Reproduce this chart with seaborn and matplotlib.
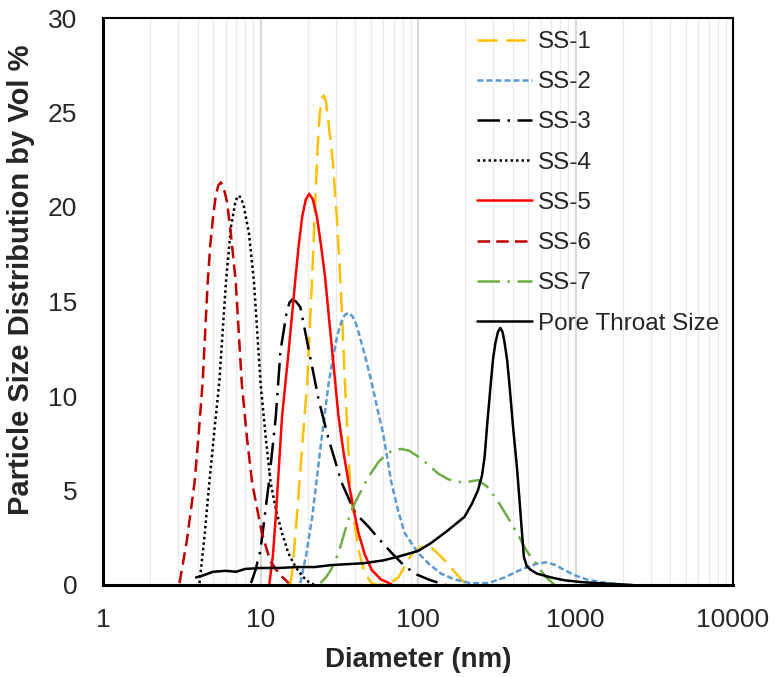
import numpy as np
import pandas as pd
import seaborn as sns
import matplotlib.pyplot as plt
from matplotlib.ticker import LogLocator, NullFormatter, FixedLocator

# values (diameter in nm, vol %)
ss1_d = [15.0, 15.5, 16.0, 16.7, 18.3, 19.8, 21.2, 22.3, 23.0, 23.7, 24.4, 25.2, 26.0, 27.0, 28.7, 30.5, 32.2, 34.4, 37.0, 39.5, 41.9, 46.0, 50.8, 55, 65, 75, 80, 86, 93, 100, 112, 125, 136, 148, 160, 175, 190, 208]
ss1_v = [0.0, 0.1, 0.9, 2.75, 7.1, 10.7, 16.0, 20.4, 23.0, 24.8, 25.7, 25.9, 25.6, 24.5, 22.5, 19.5, 16.0, 10.7, 5.4, 3.3, 1.85, 0.6, 0.1, 0.0, 0.05, 0.4, 0.8, 1.3, 1.7, 1.9, 2.1, 1.9, 1.6, 1.3, 0.95, 0.6, 0.25, 0.0]

ss2_d = [17.9, 19.5, 21.3, 23.9, 27.1, 30.5, 32.5, 34.4, 36.3, 38.5, 40.5, 42.8, 46.5, 50.8, 55, 60.1, 67.8, 75, 82.3, 100, 118, 140, 170, 215, 280, 355, 420, 495, 580, 660, 750, 845, 1000, 1170, 1450, 1830]
ss2_v = [0.1, 1.6, 3.6, 7.1, 10.7, 13.1, 13.9, 14.3, 14.4, 14.2, 13.8, 13.1, 12.0, 10.7, 9.4, 8.0, 5.4, 3.9, 2.75, 1.7, 1.1, 0.6, 0.3, 0.1, 0.1, 0.4, 0.7, 0.95, 1.15, 1.2, 1.05, 0.8, 0.5, 0.3, 0.15, 0.05]

ss3_d = [8.7, 9.3, 10.0, 11.3, 12.5, 13.4, 14.7, 15.3, 15.9, 16.8, 17.9, 20.3, 23.4, 27.1, 32.8, 40.0, 48.3, 57, 68, 80, 95.2, 120, 150]
ss3_v = [0.1, 0.8, 1.85, 5.4, 8.9, 12.4, 14.5, 14.95, 15.1, 15.0, 14.7, 12.4, 9.8, 7.7, 5.4, 3.8, 3.1, 2.4, 1.7, 1.1, 0.6, 0.25, 0.0]

ss4_d = [4.1, 4.4, 4.73, 5.1, 5.47, 6.03, 6.48, 6.9, 7.1, 7.3, 7.55, 7.85, 8.45, 9.1, 10.0, 10.8, 11.6, 12.6, 13.7, 15.0, 16.7, 18.5, 20.3, 22.0]
ss4_v = [0.1, 2.5, 5.4, 8.2, 10.7, 16.0, 18.9, 20.2, 20.5, 20.6, 20.45, 20.0, 18.6, 16.0, 10.7, 7.8, 5.4, 3.9, 2.75, 1.7, 0.95, 0.45, 0.15, 0.0]

ss5_d = [11.4, 12.0, 12.5, 13.7, 15.1, 16.7, 17.5, 18.4, 19.4, 20.4, 21.5, 22.8, 24.2, 25.7, 28.5, 31.3, 33.7, 36.3, 39.0, 41.9, 46.0, 50.8, 58, 67.5]
ss5_v = [0.1, 1.6, 3.6, 8.9, 12.4, 16.3, 18.0, 19.5, 20.4, 20.7, 20.4, 19.5, 18.0, 16.3, 12.4, 8.9, 7.0, 5.4, 4.0, 2.75, 1.6, 0.8, 0.3, 0.05]

ss6_d = [3.06, 3.4, 3.81, 4.05, 4.29, 4.62, 4.8, 5.0, 5.2, 5.4, 5.6, 5.8, 6.0, 6.15, 6.5, 6.97, 7.6, 8.2, 8.85, 10.2, 11.5, 13.1, 15.1]
ss6_v = [0.1, 2.3, 5.4, 8.0, 10.7, 16.0, 18.0, 19.5, 20.6, 21.15, 21.3, 21.1, 20.6, 20.2, 18.5, 16.0, 10.7, 7.8, 5.4, 2.75, 1.3, 0.6, 0.1]

ss7_d = [24, 26, 28, 31.3, 34.5, 38, 43, 48.3, 56, 64.5, 72, 78.5, 88, 100, 115, 134, 155, 178, 205, 240, 275, 318, 370, 425, 490, 570, 650, 740]
ss7_v = [0.1, 0.4, 0.8, 1.7, 2.9, 4.0, 4.9, 5.7, 6.5, 7.0, 7.15, 7.2, 7.1, 6.8, 6.4, 5.9, 5.6, 5.45, 5.45, 5.55, 5.2, 4.5, 3.6, 2.75, 1.8, 1.05, 0.4, 0.0]

pore_d = [3.9, 4.3, 5.0, 6.0, 7.0, 8.0, 10, 13, 17, 22, 28, 35, 45, 60, 75, 100, 120, 150, 197, 220, 240, 255, 265, 275, 290, 300, 310, 322, 333, 344, 355, 368, 380, 400, 425, 440, 455, 470, 490, 520, 570, 700, 850, 1100, 1370, 1800, 2300]
pore_v = [0.4, 0.5, 0.7, 0.75, 0.7, 0.85, 0.9, 0.9, 0.95, 0.95, 1.05, 1.1, 1.15, 1.3, 1.5, 1.8, 2.2, 2.8, 3.6, 4.3, 5.0, 5.8, 6.8, 8.5, 10.7, 12.0, 12.8, 13.4, 13.6, 13.4, 12.8, 11.9, 10.7, 8.5, 6.2, 4.6, 3.0, 1.5, 1.0, 0.8, 0.6, 0.4, 0.25, 0.15, 0.1, 0.05, 0.0]

names = ['SS-1', 'SS-2', 'SS-3', 'SS-4', 'SS-5', 'SS-6', 'SS-7', 'Pore Throat Size']
colors = ['#FFC000', '#5B9BD5', 'black', 'black', '#FF0000', '#C00000', '#70AD47', 'black']
styles = [(0, (8, 3.5)), (0, (2.4, 1.2)), (0, (9, 3, 1, 3)), (0, (1, 1.2)),
          '-', (0, (5, 2.5)), (0, (9, 3, 1, 3)), '-']
series = [(ss1_d, ss1_v), (ss2_d, ss2_v), (ss3_d, ss3_v), (ss4_d, ss4_v),
          (ss5_d, ss5_v), (ss6_d, ss6_v), (ss7_d, ss7_v), (pore_d, pore_v)]

sns.set_style('white')
plt.rcParams['font.family'] = ['Liberation Sans', 'DejaVu Sans']

fig = plt.figure(figsize=(7.75, 6.77), dpi=100)
ax = fig.add_axes([103 / 775, 1 - 585 / 677, 630 / 775, 567 / 677])

for (d, v), name, c, ls in zip(series, names, colors, styles):
    df = pd.DataFrame({'d': d, 'v': v})
    sns.lineplot(data=df, x='d', y='v', ax=ax, color=c, linestyle=ls,
                 linewidth=1.8, label=name, estimator=None)

ax.set_xscale('log')
ax.set_xlim(1, 10000)
ax.set_ylim(0, 30)
ax.set_yticks(range(0, 31, 5))
ax.xaxis.set_major_locator(FixedLocator([1, 10, 100, 1000, 10000]))
ax.set_xticklabels(['1', '10', '100', '1000', '10000'])
ax.xaxis.set_minor_locator(LogLocator(base=10, subs=np.arange(2, 10)))
ax.xaxis.set_minor_formatter(NullFormatter())

ax.grid(which='minor', axis='x', color='#EBEBEB', linewidth=1.0)
ax.grid(which='major', axis='x', color='#D9D9D9', linewidth=1.5)
ax.grid(which='major', axis='y', visible=False)
ax.set_axisbelow(True)

ax.tick_params(axis='both', which='major', direction='out', length=6.5, width=1.8,
               color='black', labelsize=19, pad=10)
ax.tick_params(axis='y', pad=12)
ax.tick_params(axis='x', which='minor', length=0)

for s in ['left', 'bottom']:
    ax.spines[s].set_color('black')
    ax.spines[s].set_linewidth(2.2)
for s in ['top', 'right']:
    ax.spines[s].set_color('black')
    ax.spines[s].set_linewidth(1.5)

ax.set_xlabel('Diameter (nm)', fontsize=20, fontweight='bold')
ax.set_ylabel('Particle Size Distribution by Vol %', fontsize=21, fontweight='bold')
ax.xaxis.set_label_coords(0.5, -0.109)
ax.yaxis.set_label_coords(-0.108, 0.538)

ax.legend(loc='upper left', bbox_to_anchor=(477 / 775, 1 - 31 / 677),
          bbox_transform=fig.transFigure, frameon=False, fontsize=17.5,
          handlelength=2.25, handletextpad=0.25, labelspacing=0.75,
          borderpad=0, borderaxespad=0)

fig.savefig('out.png', dpi=100)
